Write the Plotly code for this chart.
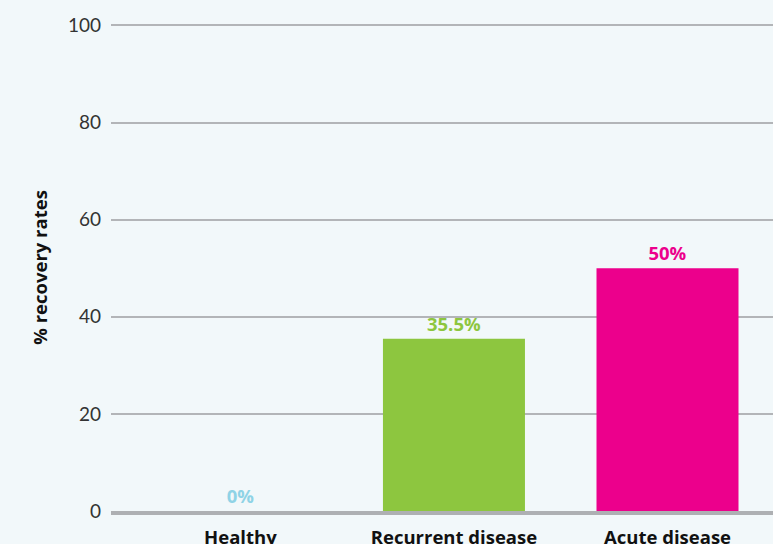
import plotly.graph_objects as go

categories = ["Healthy", "Recurrent disease", "Acute disease"]
values = [0, 35.5, 50]
labels = ["0%", "35.5%", "50%"]
colors = ["#8fd3e6", "#8dc63f", "#ec008c"]
y_ticks = [0, 20, 40, 60, 80, 100]

fig = go.Figure()
fig.add_trace(go.Bar(
    x=categories, y=values,
    marker=dict(color=colors, line=dict(width=0)),
    text=labels, textposition="outside", cliponaxis=False,
    textfont=dict(family="Open Sans, sans-serif", size=18.5, color=colors, weight="bold"),
))

fig.update_layout(
    width=773, height=544,
    margin=dict(l=111, r=0, t=24, b=33, autoexpand=False),
    paper_bgcolor="#f2f8fa", plot_bgcolor="#f2f8fa",
    bargap=0.335, showlegend=False,
    font=dict(family="Lato, sans-serif", color="#222"),
    xaxis=dict(range=[-0.606, 2.494], showgrid=False, showline=True, linecolor="#aeb0b3", linewidth=4,
               ticks="", ticklabelstandoff=7,
               tickfont=dict(family="Open Sans, sans-serif", size=18.5, color="#111", weight="bold"),
               automargin=False),
    yaxis=dict(range=[0, 100.3], tickvals=y_ticks, showgrid=True, gridcolor="#b3b5b8", gridwidth=2,
               zeroline=False, ticks="", ticklabelstandoff=9,
               tickfont=dict(size=19, color="#333"),
               title=dict(text="% recovery rates", font=dict(family="Open Sans, sans-serif", size=18.5, color="#111", weight="bold"), standoff=15),
               automargin=False),
)

fig.write_html("out.html", config={"displayModeBar": False},
               post_script="document.body.style.margin='0';document.body.style.overflow='hidden';")
